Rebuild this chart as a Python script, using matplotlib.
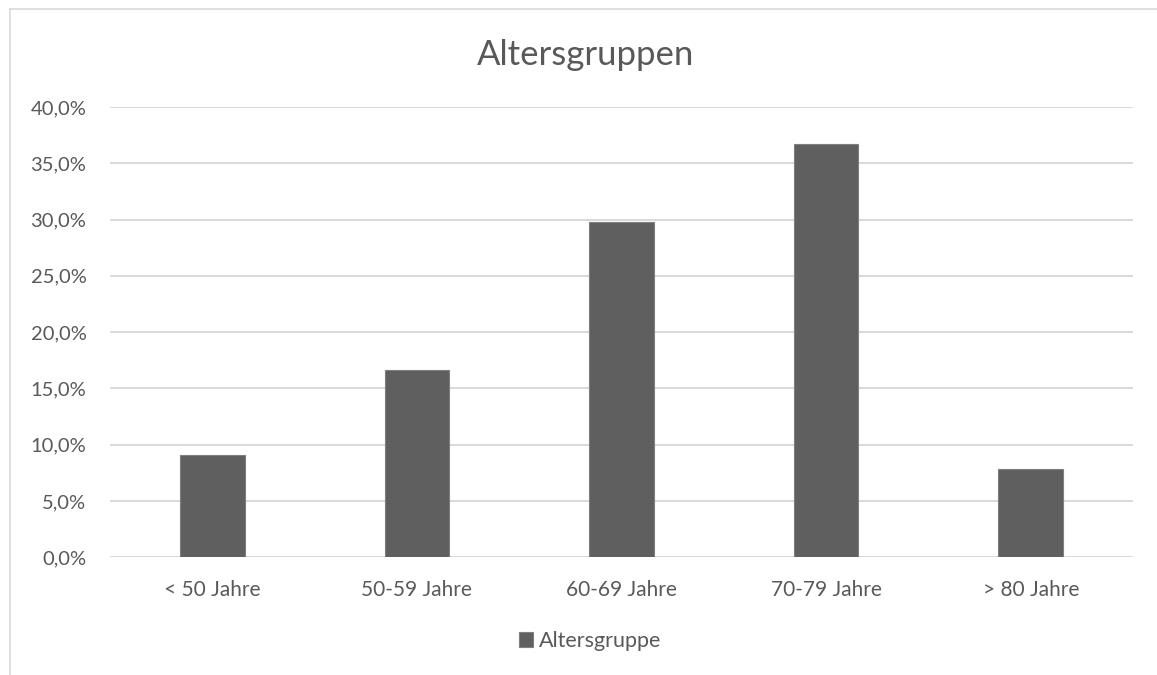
import matplotlib
matplotlib.use("Agg")
import matplotlib.pyplot as plt
from matplotlib.lines import Line2D
from matplotlib.patches import Patch
from matplotlib.ticker import FuncFormatter, MultipleLocator

categories = ["< 50 Jahre", "50-59 Jahre", "60-69 Jahre", "70-79 Jahre", "> 80 Jahre"]
values = [9.1, 16.6, 29.8, 36.7, 7.8]
series_name = "Altersgruppe"
title = "Altersgruppen"

plt.rcParams["font.family"] = ["Lato", "DejaVu Sans"]
text_color = "#595959"
bar_color = "#5f5f5f"
grid_color = "#d9d9d9"

fig = plt.figure(figsize=(11.57, 6.75), dpi=100)
ax = fig.add_axes([110 / 1157, 1 - 557.3 / 675, (1133 - 110) / 1157, (557.3 - 107) / 675])

x = range(len(categories))
ax.bar(x, values, width=0.315, color=bar_color, edgecolor="#7f7f7f", linewidth=0.8, zorder=3)

ax.set_xlim(-0.5, len(categories) - 0.5)
ax.set_ylim(0, 40)
ax.yaxis.set_major_locator(MultipleLocator(5))
ax.yaxis.set_major_formatter(FuncFormatter(lambda v, p: f"{v:.1f}%".replace(".", ",")))
ax.grid(axis="y", color=grid_color, linewidth=1.4, zorder=0)
ax.set_xticks(list(x))
ax.set_xticklabels(categories)
ax.tick_params(axis="x", length=0, labelsize=15, colors=text_color, pad=16)
ax.tick_params(axis="y", length=0, labelsize=14.5, colors=text_color, pad=17)
for s in ax.spines.values():
    s.set_visible(False)

fig.text(586 / 1157, 1 - 55 / 675, title, ha="center", va="center", fontsize=25, color=text_color)

handle = Patch(facecolor=bar_color, edgecolor="#7f7f7f", linewidth=0.8)
fig.legend([handle], [series_name], loc="center", bbox_to_anchor=(590 / 1157, 1 - 641 / 675),
           frameon=False, fontsize=15.5, labelcolor=text_color, handlelength=0.65, handleheight=0.65,
           handletextpad=0.3)

# Light frame around the chart area (top and left edges)
fig.add_artist(Line2D([9.5 / 1157, 1.0], [1 - 8.5 / 675, 1 - 8.5 / 675], color=grid_color, linewidth=1.2))
fig.add_artist(Line2D([9.5 / 1157, 9.5 / 1157], [0, 1 - 8.5 / 675], color=grid_color, linewidth=1.2))

fig.savefig("out.png", dpi=100, facecolor="white")
